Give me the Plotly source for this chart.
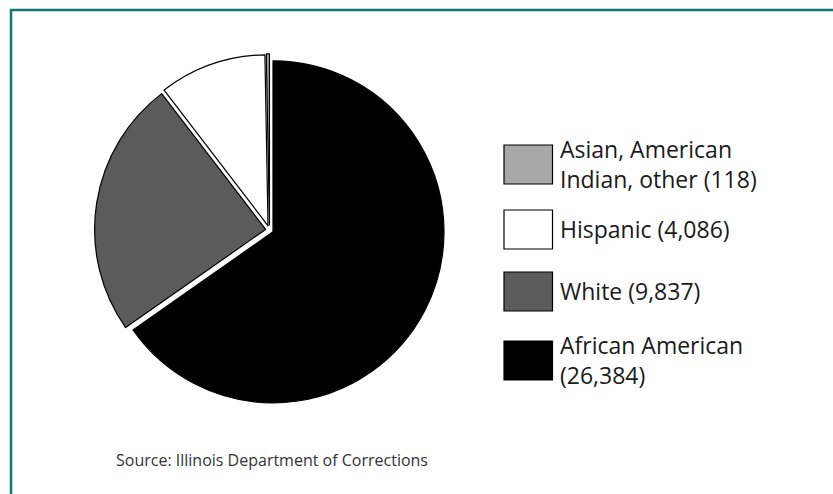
import plotly.graph_objects as go

# ---- data ----
labels = ["African American", "White", "Hispanic", "Asian, American Indian, other"]
values = [26384, 9837, 4086, 118]
colors = ["#000000", "#5b5b5b", "#ffffff", "#a8a8a8"]
pulls = [0.023, 0.023, 0.026, 0.03]
legend_names = ["African American", "White", "Hispanic", "Asian, American<br>Indian, other"]
legend_seps = ["<br>", " ", " ", " "]
source_text = "Source: Illinois Department of Corrections"

W, H = 833, 494
cx, cy, R = 269.5, 230.0, 171.0
half = R * (1 + max(pulls))

fig = go.Figure()
fig.add_trace(go.Pie(
    labels=labels, values=values, sort=False, direction="clockwise", rotation=0,
    pull=pulls, marker=dict(colors=colors, line=dict(color="#000000", width=1.2)),
    textinfo="none", hoverinfo="none", showlegend=False,
    domain=dict(x=[(cx - half) / W, (cx + half) / W],
                y=[1 - (cy + half) / H, 1 - (cy - half) / H]),
))

shapes = []
annotations = []
# frame
shapes.append(dict(type="rect", xref="paper", yref="paper",
                   x0=11 / W, x1=1.05, y0=-0.05, y1=1 - 10 / H,
                   line=dict(color="#137474", width=2.5), fillcolor="rgba(0,0,0,0)", layer="above"))

# legend (top to bottom = reverse order of slices)
box_tops = [145, 210, 272, 341]
bx0, bx1, bh = 504, 552.5, 39
order = list(range(len(labels)))[::-1]
for k, i in enumerate(order):
    top = box_tops[k]
    shapes.append(dict(type="rect", xref="paper", yref="paper",
                       x0=bx0 / W, x1=bx1 / W, y0=1 - (top + bh) / H, y1=1 - top / H,
                       line=dict(color="#000000", width=1.2), fillcolor=colors[i]))
    full = f"{legend_names[i]}{legend_seps[i]}({values[i]:,})"
    yc = top + bh / 2 - 0.5
    annotations.append(dict(xref="paper", yref="paper", x=558 / W, y=1 - yc / H,
                            xanchor="left", yanchor="middle", align="left", showarrow=False,
                            text=full,
                            font=dict(family="Open Sans", size=23, color="#1a1a1a")))

annotations.append(dict(xref="paper", yref="paper", x=114 / W, y=1 - 460 / H,
                        xanchor="left", yanchor="middle", showarrow=False, text=source_text,
                        font=dict(family="Open Sans", size=16, color="#333333")))

fig.update_layout(width=W, height=H, margin=dict(l=0, r=0, t=0, b=0),
                  paper_bgcolor="white", plot_bgcolor="white",
                  shapes=shapes, annotations=annotations)

fig.write_html("out.html", config={"displayModeBar": False})
